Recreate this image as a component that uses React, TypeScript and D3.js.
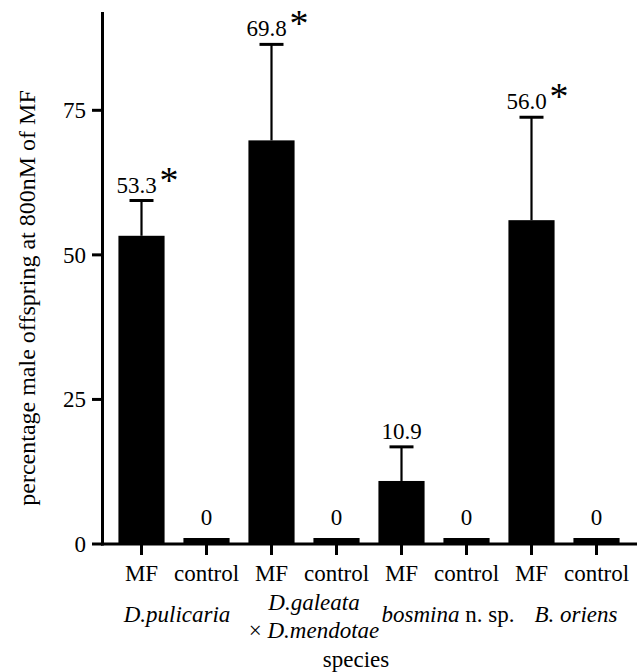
import React from 'react';
import * as d3 from 'd3';

// bar groups along the x axis
const treatments = ['MF', 'control', 'MF', 'control', 'MF', 'control', 'MF', 'control'];
const percentMale = [53.3, 0, 69.8, 0, 10.9, 0, 56.0, 0];
const errorUp = [6.1, 0, 16.6, 0, 5.9, 0, 17.8, 0];
const significant = [true, false, true, false, false, false, true, false];
const yTicks = [0, 25, 50, 75];

// species label parts: [text, italic?] per line, one entry per pair of bars
const speciesLabels: Array<Array<Array<[string, boolean]>>> = [
    [[['D.pulicaria', true]]],
    [[['D.galeata', true]], [['× ', false], ['D.mendotae', true]]],
    [[['bosmina', true], [' n. sp.', false]]],
    [[['B. oriens', true]]],
];
const speciesNudge = [3, 10, 14, 12];

const W = 642;
const H = 672;
const FONT = 'Liberation Serif, DejaVu Serif, serif';

const App: React.FC = () => {
    const ids = treatments.map((_, i) => String(i));

    const x = d3.scaleBand<string>()
        .domain(ids)
        .range([109, 629])
        .paddingInner(0.29)
        .paddingOuter(0.145);

    const y = d3.scaleLinear()
        .domain([0, 92])
        .range([544, 12]);

    const axisX = 102.5;
    const axisY = y(0);
    const zeroBarH = 6;
    const mid = (i: number) => x(ids[i])! + x.bandwidth() / 2;

    return (
        <svg width={W} height={H} style={{ position: 'fixed', left: 0, top: 0, background: '#fff', fontFamily: FONT }}>
            {/* bars */}
            {percentMale.map((v, i) => {
                const top = v > 0 ? y(v) : axisY - zeroBarH;
                return <rect key={'b' + i} x={x(ids[i])} y={top} width={x.bandwidth()}
                    height={axisY - top} fill="#000" />;
            })}

            {/* error bars */}
            {percentMale.map((v, i) => {
                if (!errorUp[i]) return null;
                const cx = mid(i);
                const yt = y(v + errorUp[i]);
                return (
                    <g key={'e' + i} stroke="#000">
                        <line x1={cx} x2={cx} y1={y(v)} y2={yt} strokeWidth={2.2} />
                        <line x1={cx - 12} x2={cx + 12} y1={yt} y2={yt} strokeWidth={3} />
                    </g>
                );
            })}

            {/* value labels */}
            {percentMale.map((v, i) => {
                const cx = mid(i);
                const base = errorUp[i] ? y(v + errorUp[i]) - 8 : axisY - zeroBarH - 13;
                const label = v === 0 ? '0' : v.toFixed(1);
                const star = significant[i];
                return (
                    <g key={'l' + i} fontSize={23}>
                        <text x={star ? cx - 5 : cx} y={base} textAnchor="middle">{label}</text>
                        {star && <text x={cx + 18} y={base} fontSize={38}>*</text>}
                    </g>
                );
            })}

            {/* y axis */}
            <line x1={axisX} x2={axisX} y1={y(92)} y2={axisY + 1.5} stroke="#000" strokeWidth={3} />
            {yTicks.map(t => (
                <g key={'yt' + t}>
                    <line x1={92} x2={axisX} y1={y(t)} y2={y(t)} stroke="#000" strokeWidth={3} />
                    <text x={86} y={y(t)} dy="0.34em" textAnchor="end" fontSize={23}>{t}</text>
                </g>
            ))}

            {/* x axis */}
            <line x1={axisX - 1.5} x2={637} y1={axisY} y2={axisY} stroke="#000" strokeWidth={3} />
            {treatments.map((t, i) => (
                <g key={'xt' + i}>
                    <line x1={mid(i)} x2={mid(i)} y1={axisY} y2={axisY + 11} stroke="#000" strokeWidth={3} />
                    <text x={mid(i)} y={581} textAnchor="middle" fontSize={23}>{t}</text>
                </g>
            ))}

            {/* species labels */}
            {speciesLabels.map((lines, k) => {
                const cx = (mid(k * 2) + mid(k * 2 + 1)) / 2 + speciesNudge[k];
                const y0 = lines.length > 1 ? 610 : 622;
                return lines.map((parts, li) => (
                    <text key={'s' + k + li} x={cx} y={y0 + li * 28} textAnchor="middle" fontSize={23}>
                        {parts.map(([s, it], pi) => (
                            <tspan key={pi} fontStyle={it ? 'italic' : 'normal'}>{s}</tspan>
                        ))}
                    </text>
                ));
            })}

            <text x={356} y={667} textAnchor="middle" fontSize={23}>species</text>

            <text transform={`translate(35,298) rotate(-90)`} textAnchor="middle" fontSize={24}>
                percentage male offspring at 800nM of MF
            </text>
        </svg>
    );
};

export default App;
